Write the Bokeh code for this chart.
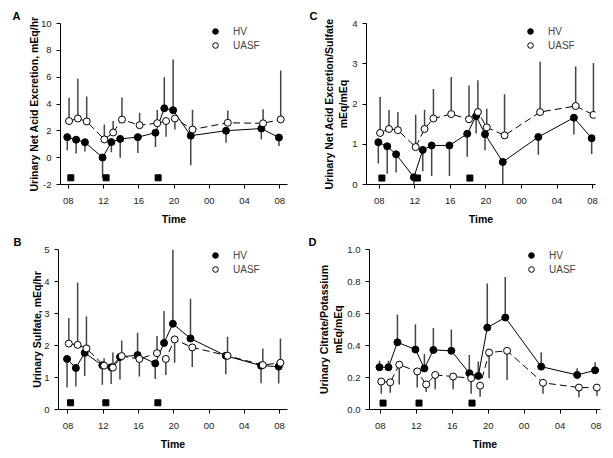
from bokeh.plotting import figure
from bokeh.layouts import column, row
from bokeh.models import ColumnDataSource, FixedTicker, Legend, LegendItem, Range1d
from bokeh.transform import dodge
from bokeh.embed import file_html
from bokeh.resources import INLINE

# ---------------- data ----------------
times = [8, 9, 10, 12, 13, 14, 16, 18, 19, 20, 22, 26, 30, 32]
x_ticks = [8, 12, 16, 20, 24, 28, 32]
x_tick_labels = ["08", "12", "16", "20", "00", "04", "08"]
meal_times = [8.3, 12.3, 18.2]

# Panel A: Urinary net acid excretion, mEq/hr
a_hv = [1.53, 1.34, 1.15, 0.01, 1.16, 1.40, 1.53, 1.86, 3.68, 3.54, 1.64, 2.01, 2.17, 1.50]
a_hv_err = [0.56, 0.31, 0.46, -1.5, 0.40, 0.0, 0.34, 0.80, 6.0, 7.32, -0.56, 1.12, 1.38, 0.87]
a_uasf = [2.73, 2.92, 2.70, 1.36, 1.88, 2.84, 2.42, 2.57, 2.73, 2.92, 2.10, 2.60, 2.56, 2.85]
a_uasf_err = [4.46, 5.88, 4.55, 2.48, 2.73, 4.48, 3.35, 3.56, 1.55, 2.10, 3.57, 3.52, 3.60, 6.50]
a_meal_y = -1.5

# Panel C: Urinary net acid excretion / sulfate, mEq/mEq
c_hv = [1.05, 0.95, 0.75, 0.18, 0.86, 0.97, 0.97, 1.26, 1.70, 1.25, 0.56, 1.18, 1.66, 1.15]
c_hv_err = [0.52, 0.27, 0.30, 0.0, 0.33, 0.21, 0.21, 0.69, 1.27, 0.85, 0.0, 0.74, 1.24, 0.76]
c_uasf = [1.28, 1.38, 1.35, 0.93, 1.38, 1.64, 1.75, 1.62, 1.80, 1.42, 1.22, 1.80, 1.95, 1.73]
c_uasf_err = [2.18, 1.85, 1.80, 1.73, 1.86, 2.37, 2.67, 2.46, 2.59, 1.88, 2.24, 3.05, 2.93, 3.02]
c_meal_y = 0.16

# Panel B: Urinary sulfate, mEq/hr
b_hv = [1.58, 1.30, 1.77, 1.38, 1.32, 1.64, 1.70, 1.44, 2.08, 2.68, 2.22, 1.68, 1.37, 1.34]
b_hv_err = [0.69, 0.72, 1.05, 0.77, 0.80, 0.94, 2.40, 0.95, 3.08, 5.0, 3.46, 1.10, 0.82, 0.81]
b_uasf = [2.06, 2.02, 1.91, 1.37, 1.31, 1.67, 1.58, 1.76, 1.58, 2.19, 1.94, 1.68, 1.39, 1.46]
b_uasf_err = [2.86, 3.97, 2.91, 1.60, 1.78, 2.16, 1.03, 2.30, 1.08, 1.46, 1.33, 2.27, 1.91, 2.22]
b_meal_y = 0.21

# Panel D: Urinary citrate / potassium, mEq/mEq
d_hv = [0.264, 0.264, 0.42, 0.375, 0.257, 0.372, 0.367, 0.227, 0.21, 0.512, 0.575, 0.268, 0.216, 0.245]
d_hv_err = [0.305, 0.305, 0.594, 0.533, 0.347, 0.51, 0.50, 0.34, 0.30, 0.787, 0.828, 0.358, 0.258, 0.295]
d_uasf = [0.175, 0.17, 0.28, 0.238, 0.157, 0.216, 0.206, 0.196, 0.149, 0.356, 0.367, 0.167, 0.137, 0.137]
d_uasf_err = [0.098, 0.104, 0.157, 0.138, 0.11, 0.127, 0.126, 0.098, 0.08, 0.195, 0.185, 0.098, 0.077, 0.086]
d_meal_y = 0.04

FONT = "Liberation Sans"
ERR_COLOR = "#444444"


def make_panel(letter, ylabel, hv, hv_err, ua, ua_err, meal_y, yr, yticks, ylabels,
               xr, size, borders, legend_xy, letter_offset, ylabel_standoff):
    left, right, top, bottom = borders
    p = figure(width=size[0], height=size[1], x_range=Range1d(*xr), y_range=Range1d(*yr),
               output_backend="svg", toolbar_location=None,
               min_border_left=left, min_border_right=right,
               min_border_top=top, min_border_bottom=bottom)
    p.outline_line_color = None
    p.grid.visible = False
    p.background_fill_color = "white"
    p.border_fill_color = "white"

    # panel letter as the title
    p.title.text = letter
    p.title.align = "left"
    p.title.offset = letter_offset
    p.title.standoff = 4
    p.title.text_font = FONT
    p.title.text_font_style = "bold"
    p.title.text_font_size = "11px"
    p.title.text_color = "black"

    src = ColumnDataSource(dict(t=times, hv=hv, hv_err=hv_err, ua=ua, ua_err=ua_err))
    hv_x = dodge("t", -0.1)
    ua_x = dodge("t", 0.1)

    # error bars
    p.segment(x0=hv_x, y0="hv", x1=hv_x, y1="hv_err", source=src,
              line_color=ERR_COLOR, line_width=1.5)
    p.segment(x0=ua_x, y0="ua", x1=ua_x, y1="ua_err", source=src,
              line_color=ERR_COLOR, line_width=1.5)
    # lines
    p.line(x=hv_x, y="hv", source=src, line_color="black", line_width=1)
    p.line(x=ua_x, y="ua", source=src, line_color="black", line_width=1,
           line_dash="7 4")
    # markers
    r_hv = p.scatter(x=hv_x, y="hv", source=src, size=7, marker="circle",
                     fill_color="black", line_color="black", line_width=1)
    r_ua = p.scatter(x=ua_x, y="ua", source=src, size=7, marker="circle",
                     fill_color="white", line_color="black", line_width=1)
    # meal markers
    p.scatter(x=meal_times, y=[meal_y] * len(meal_times), marker="square", size=6,
              fill_color="black", line_color="black")

    # axes
    p.xaxis.ticker = FixedTicker(ticks=x_ticks)
    p.xaxis.major_label_overrides = {t: l for t, l in zip(x_ticks, x_tick_labels)}
    p.yaxis.ticker = FixedTicker(ticks=yticks)
    p.yaxis.major_label_overrides = {t: l for t, l in zip(yticks, ylabels)}
    for ax in (p.xaxis[0], p.yaxis[0]):
        ax.minor_tick_line_color = None
        ax.major_tick_out = 4
        ax.major_tick_in = 0
        ax.axis_line_color = "black"
        ax.major_tick_line_color = "black"
        ax.major_label_text_font = FONT
        ax.major_label_text_font_size = "9.5px"
        ax.major_label_text_color = "#222222"
        ax.axis_label_text_font = FONT
        ax.axis_label_text_font_style = "bold"
        ax.axis_label_text_font_size = "10.5px"
        ax.axis_label_text_color = "black"
    p.xaxis.major_label_standoff = 9
    p.xaxis.axis_label_standoff = 6
    p.yaxis.major_label_standoff = 5
    p.yaxis.axis_label_standoff = ylabel_standoff
    p.xaxis.axis_label = "Time"
    p.yaxis.axis_label = ylabel

    legend = Legend(items=[LegendItem(label="HV", renderers=[r_hv]),
                           LegendItem(label="UASF", renderers=[r_ua])],
                    location=legend_xy, padding=0, margin=0, spacing=-2,
                    glyph_width=14, glyph_height=14, label_height=12,
                    label_standoff=11, label_text_font=FONT,
                    label_text_font_size="10px", border_line_alpha=0,
                    background_fill_alpha=0)
    p.add_layout(legend)
    return p


pA = make_panel("A", "Urinary Net Acid Excretion, mEq/hr", a_hv, a_hv_err, a_uasf, a_uasf_err,
                a_meal_y, (-2, 10), [-2, 0, 2, 4, 6, 8, 10], ["-2", "0", "2", "4", "6", "8", "10"],
                (7.13, 32.87), (306, 229), (60, 19, 23, 45), (148, 132), -48, -2)
pC = make_panel("C", "Urinary Net Acid Excretion/Sulfate\nmEq/mEq", c_hv, c_hv_err, c_uasf, c_uasf_err,
                c_meal_y, (0, 4), [0, 1, 2, 3, 4], ["0", "1", "2", "3", "4"],
                (6.57, 32.33), (306, 229), (60, 17, 23, 45), (157, 132), -57, 0)
pB = make_panel("B", "Urinary Sulfate, mEq/hr", b_hv, b_hv_err, b_uasf, b_uasf_err,
                b_meal_y, (0, 5), [0, 1, 2, 3, 4, 5], ["0", "1", "2", "3", "4", "5"],
                (6.93, 32.9), (306, 228), (58, 19, 19, 47), (150, 133), -45, -2)
pD = make_panel("D", "Urinary Citrate/Potassium\nmEq/mEq", d_hv, d_hv_err, d_uasf, d_uasf_err,
                d_meal_y, (0, 1), [0, 0.2, 0.4, 0.6, 0.8, 1.0], ["0.0", "0.2", "0.4", "0.6", "0.8", "1.0"],
                (6.79, 32.5), (306, 228), (63, 12, 20, 48), (155, 133), -61, 0)

layout = column(row(pA, pC, spacing=0), row(pB, pD, spacing=0), spacing=0)
open("out.html", "w").write(file_html(layout, INLINE))
